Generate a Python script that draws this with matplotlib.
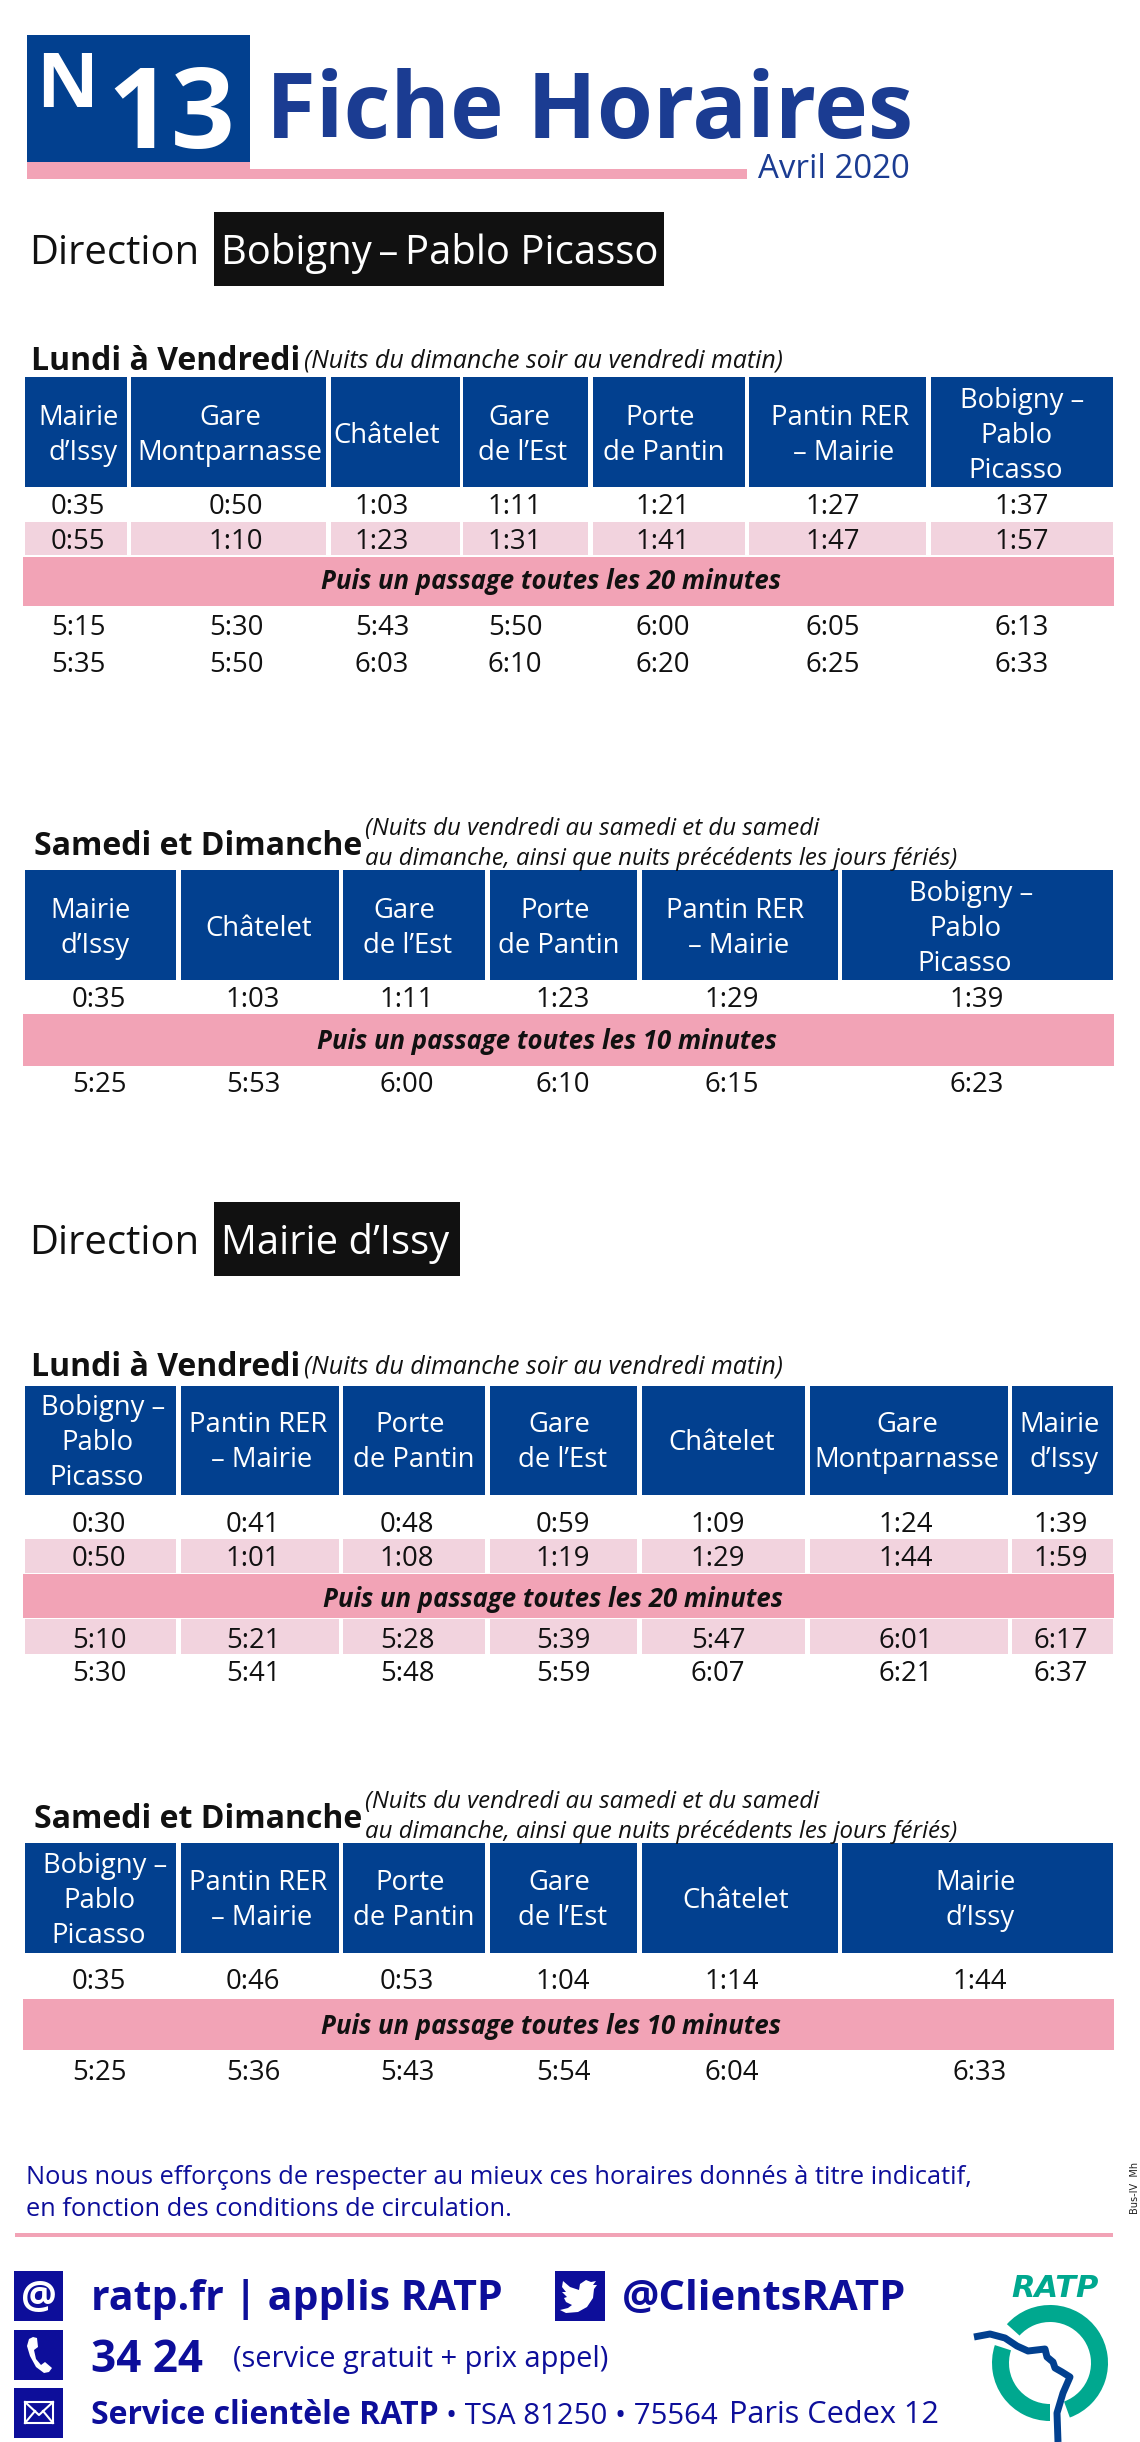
import matplotlib
matplotlib.use("Agg")
import matplotlib.pyplot as plt
from matplotlib.patches import Rectangle, Wedge, Polygon

plt.rcParams['font.family'] = ['Open Sans', 'DejaVu Sans']

BLUE = "#02408f"
TITLE_BLUE = "#1b3c92"
INK_BLUE = "#0d0e9a"
PINK = "#f2a3b6"
LIGHT_PINK = "#f2d3de"
BLACK = "#111111"
TEAL = "#00a88f"

# table 1 - Bobigny, lundi a vendredi
stops_1 = ["Mairie\nd’Issy", "Gare\nMontparnasse", "Châtelet", "Gare\nde l’Est", "Porte\nde Pantin",
           "Pantin RER\n– Mairie", "Bobigny –\nPablo\nPicasso"]
times_1 = [["0:35", "0:50", "1:03", "1:11", "1:21", "1:27", "1:37"],
           ["0:55", "1:10", "1:23", "1:31", "1:41", "1:47", "1:57"],
           ["5:15", "5:30", "5:43", "5:50", "6:00", "6:05", "6:13"],
           ["5:35", "5:50", "6:03", "6:10", "6:20", "6:25", "6:33"]]
banner_1 = "Puis un passage toutes les 20 minutes"

# table 2 - Bobigny, samedi et dimanche
stops_2 = ["Mairie\nd’Issy", "Châtelet", "Gare\nde l’Est", "Porte\nde Pantin",
           "Pantin RER\n– Mairie", "Bobigny –\nPablo\nPicasso"]
times_2 = [["0:35", "1:03", "1:11", "1:23", "1:29", "1:39"],
           ["5:25", "5:53", "6:00", "6:10", "6:15", "6:23"]]
banner_2 = "Puis un passage toutes les 10 minutes"

# table 3 - Mairie d'Issy, lundi a vendredi
stops_3 = ["Bobigny –\nPablo\nPicasso", "Pantin RER\n– Mairie", "Porte\nde Pantin", "Gare\nde l’Est",
           "Châtelet", "Gare\nMontparnasse", "Mairie\nd’Issy"]
times_3 = [["0:30", "0:41", "0:48", "0:59", "1:09", "1:24", "1:39"],
           ["0:50", "1:01", "1:08", "1:19", "1:29", "1:44", "1:59"],
           ["5:10", "5:21", "5:28", "5:39", "5:47", "6:01", "6:17"],
           ["5:30", "5:41", "5:48", "5:59", "6:07", "6:21", "6:37"]]
banner_3 = "Puis un passage toutes les 20 minutes"

# table 4 - Mairie d'Issy, samedi et dimanche
stops_4 = ["Bobigny –\nPablo\nPicasso", "Pantin RER\n– Mairie", "Porte\nde Pantin", "Gare\nde l’Est",
           "Châtelet", "Mairie\nd’Issy"]
times_4 = [["0:35", "0:46", "0:53", "1:04", "1:14", "1:44"],
           ["5:25", "5:36", "5:43", "5:54", "6:04", "6:33"]]
banner_4 = "Puis un passage toutes les 10 minutes"

week_title = "Lundi à Vendredi"
week_note = "(Nuits du dimanche soir au vendredi matin)"
end_title = "Samedi et Dimanche"
end_note = ["(Nuits du vendredi au samedi et du samedi",
            "au dimanche, ainsi que nuits précédents les jours fériés)"]

fig = plt.figure(figsize=(11.4, 24.42), dpi=100)
ax = fig.add_axes([0, 0, 1, 1])
ax.set_xlim(0, 1140)
ax.set_ylim(2442, 0)
ax.axis("off")


def box(x0, y0, x1, y1, color):
    ax.add_patch(Rectangle((x0, y0), x1 - x0, y1 - y0, fc=color, ec="none"))


def txt(x, y, s, em, color=BLACK, weight="normal", style="normal", ha="left"):
    # em in pixels, y is the baseline
    ax.text(x, y, s, fontsize=em * 0.72, color=color, fontweight=weight, fontstyle=style,
            ha=ha, va="baseline")


def mid(x, y, s, em=27.5, color=BLACK):
    # y is the middle of the capitals
    txt(x, y + 0.357 * em, s, em, color=color, ha="center")


def table(edges, top, bottom, stops, head_x, head_mid, times, row_x, row_y, bands, banner_box, banner, banner_x, banner_y):
    for (x0, x1), name, hx in zip(edges, stops, head_x):
        box(x0, top, x1, bottom, BLUE)
        lines = name.split("\n")
        # lines are not quite centred on each other in the original
        shifts = {1: [0], 2: [-2, 2], 3: [6, 0, 0]}[len(lines)]
        if "Montparnasse" in name:
            shifts = [0, 0]
        for i, line in enumerate(lines):
            mid(hx + shifts[i], head_mid + (i - (len(lines) - 1) / 2) * 35, line, color="white")
    for y0, y1 in bands:
        for x0, x1 in edges:
            box(x0, y0, x1, y1, LIGHT_PINK)
    for row, y in zip(times, row_y):
        for t, x in zip(row, row_x):
            mid(x, y, t)
    box(23, banner_box[0], 1114, banner_box[1], PINK)
    txt(banner_x, banner_y, banner, 25.7, weight="bold", style="italic", ha="center")


# header
box(27, 35, 250, 162, BLUE)
box(27, 162, 250, 179, PINK)
box(250, 169, 747, 179, PINK)
txt(67, 107, "N", 76, color="white", weight="bold", ha="center")
txt(171, 148, "13", 112, color="white", weight="bold", ha="center")
txt(266, 138, "Fiche Horaires", 90.7, color=TITLE_BLUE, weight="bold")
txt(758, 178, "Avril 2020", 33, color=TITLE_BLUE)

# direction 1
txt(29, 264, "Direction", 40)
box(214, 212, 664, 286, BLACK)
txt(221, 264, "Bobigny\u2009–\u2009Pablo Picasso", 40, color="white")

txt(31, 370, week_title, 32, weight="bold")
txt(304, 368, week_note, 25, style="italic")

edges_a = [(25, 127), (131, 326), (331, 460), (463, 588), (593, 745), (749, 926), (931, 1113)]
table(edges_a, 377, 487, stops_1, [81, 230, 387, 521, 662, 842, 1016], 433,
      times_1, [78, 236, 382, 515, 663, 833, 1022], [504, 539, 625, 662],
      [(522, 555)], (557, 606), banner_1, 551, 589)

# samedi
txt(34, 855, end_title, 32, weight="bold")
txt(365, 835, end_note[0], 24, style="italic")
txt(365, 865, end_note[1], 24, style="italic")

edges_b = [(25, 176), (181, 339), (343, 485), (490, 637), (642, 838), (842, 1113)]
table(edges_b, 870, 980, stops_2, [93, 259, 406, 557, 737, 965], 926,
      times_2, [99, 253, 407, 563, 732, 977], [997, 1082],
      [], (1014, 1066), banner_2, 547, 1049)

# direction 2
txt(29, 1254, "Direction", 40)
box(214, 1202, 460, 1276, BLACK)
txt(221, 1254, "Mairie d’Issy", 40, color="white")

txt(31, 1376, week_title, 32, weight="bold")
txt(304, 1374, week_note, 25, style="italic")

edges_c = [(25, 176), (181, 339), (343, 485), (490, 637), (642, 805), (810, 1008), (1012, 1113)]
table(edges_c, 1386, 1495, stops_3, [97, 260, 412, 561, 722, 907, 1062], 1440,
      times_3, [99, 253, 407, 563, 718, 906, 1061], [1522, 1556, 1638, 1671],
      [(1539, 1573), (1619, 1654)], (1574, 1618), banner_3, 553, 1607)

# samedi
txt(34, 1828, end_title, 32, weight="bold")
txt(365, 1808, end_note[0], 24, style="italic")
txt(365, 1838, end_note[1], 24, style="italic")

edges_d = [(25, 176), (181, 339), (343, 485), (490, 637), (642, 838), (842, 1113)]
table(edges_d, 1843, 1953, stops_4, [99, 260, 412, 561, 736, 978], 1898,
      times_4, [99, 253, 407, 563, 732, 980], [1979, 2070],
      [], (1999, 2050), banner_4, 551, 2034)

# bottom notes
txt(26, 2184, "Nous nous efforçons de respecter au mieux ces horaires donnés à titre indicatif,", 25.4, color=INK_BLUE)
txt(26, 2216, "en fonction des conditions de circulation.", 25.4, color=INK_BLUE)
box(15, 2233, 1113, 2237, PINK)
ax.text(1135, 2188, "Bus-IV  Mh", fontsize=7, rotation=90, ha="center", va="center",
        family="DejaVu Sans", color="#222222")

# contact icons
box(14, 2271, 63, 2321, INK_BLUE)
box(14, 2330, 63, 2380, INK_BLUE)
box(14, 2388, 63, 2438, INK_BLUE)
box(555, 2271, 605, 2321, INK_BLUE)
txt(38.5, 2309, "@", 40, color="white", weight="bold", ha="center")

# phone handset
ax.add_patch(Polygon([(29, 2339), (33, 2337), (37, 2338), (38, 2347), (34, 2350), (36, 2359), (41, 2365),
                      (45, 2362), (52, 2368), (49, 2372), (44, 2373), (36, 2367), (30, 2356), (27, 2346)],
                     fc="white", ec="none"))

# envelope
ax.add_patch(Polygon([(25, 2402), (53, 2402), (53, 2423), (25, 2423)], fc=INK_BLUE, ec="white", lw=1.5))
ax.plot([25, 39, 53], [2402, 2415, 2402], color="white", lw=1.5)
ax.plot([25, 35], [2423, 2411], color="white", lw=1.5)
ax.plot([53, 43], [2423, 2411], color="white", lw=1.5)

# twitter bird
ax.add_patch(Polygon([(563, 2281), (570, 2287), (579, 2290), (580, 2284), (586, 2280), (591, 2282), (596, 2281),
                      (593, 2285), (597, 2285), (594, 2289), (593, 2298), (587, 2307), (578, 2312), (566, 2313),
                      (560, 2310), (568, 2308), (572, 2305), (566, 2302), (564, 2298), (567, 2297), (562, 2292),
                      (566, 2292), (562, 2287)], fc="white", ec="none"))

txt(91, 2310, "ratp.fr | applis RATP", 41, color=INK_BLUE, weight="bold")
txt(622, 2310, "@ClientsRATP", 41.8, color=INK_BLUE, weight="bold")
txt(91, 2372, "34 24", 44, color=INK_BLUE, weight="bold")
txt(233, 2367, "(service gratuit + prix appel)", 29, color=INK_BLUE)
txt(91, 2424, "Service clientèle RATP", 32, color=INK_BLUE, weight="bold")
txt(446, 2424, "• TSA 81250 • 75564", 29.4, color=INK_BLUE)
txt(729, 2423, "Paris Cedex 12", 30.6, color=INK_BLUE)

# logo
ax.text(1055, 2297, "RATP", fontsize=22, color=TEAL, fontweight="bold", fontstyle="oblique",
        family="DejaVu Sans", ha="center", va="baseline")
ax.add_patch(Wedge((1050, 2363), 58, -138, 70, width=17, fc=TEAL, ec="none"))
ax.add_patch(Wedge((1050, 2363), 58, 90, 198, width=17, fc=TEAL, ec="none"))
ax.plot([974, 990, 1005, 1017, 1028, 1045, 1047, 1053, 1055, 1062, 1070, 1063, 1057, 1058],
        [2337, 2334, 2338, 2346, 2351, 2349, 2357, 2362, 2368, 2372, 2377, 2393, 2413, 2442],
        color=BLUE, lw=5, solid_capstyle="butt", solid_joinstyle="round")

fig.savefig("out.png", dpi=100)
